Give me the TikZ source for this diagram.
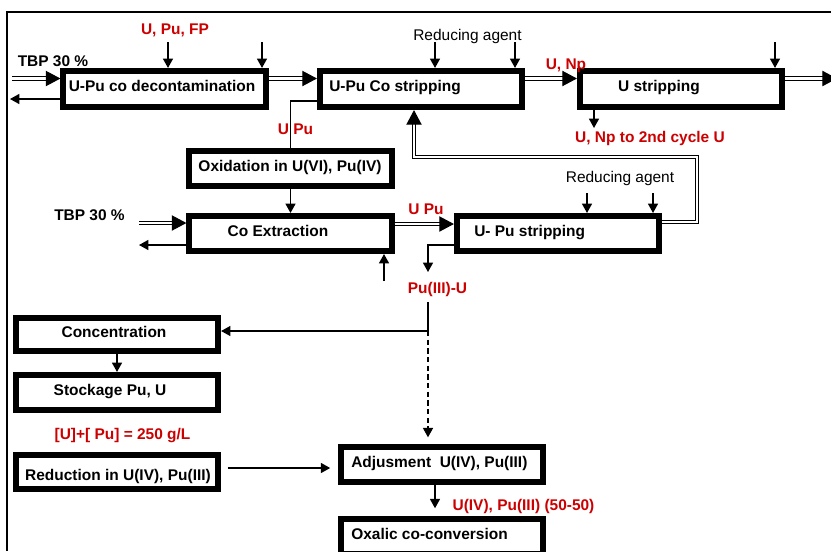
\documentclass[tikz,border=0pt]{standalone}
\usepackage{fontspec}
\setmainfont{Liberation Sans}
\usetikzlibrary{arrows.meta,calc}
\definecolor{labelred}{RGB}{204,0,0}

\begin{document}
\begin{tikzpicture}[x=0.75pt,y=-0.75pt,
  font=\fontsize{11.6}{13}\selectfont\bfseries,
  pbox/.style={draw, line width=4.5pt, minimum width=151.6pt,
    minimum height=26.3pt, inner sep=0pt},
  txt/.style={inner sep=0pt, anchor=base},
  redtxt/.style={txt, text=labelred},
  plaintxt/.style={txt, font=\fontsize{11.6}{13}\selectfont\mdseries},
  thin/.style={line width=1pt},
  arr/.style={thin, -{Triangle[length=7pt,width=7.5pt]}},
  dbl/.style={double, line width=0.75pt, double distance=1.6pt, line join=miter},
  dblarr/.style={dbl, -{Triangle[length=11pt,width=11.5pt]}},
  dashedarr/.style={arr, dash pattern=on 4pt off 2.5pt}
]
\useasboundingbox (0,0) rectangle (831,551);

% outer frame (left and top edges)
\draw[thin] (7,551) -- (7,12) -- (831,12);

% process boxes
\node[pbox, minimum height=27.1pt] (dec)  at (164.5,89) {};
\node[pbox, minimum height=27.1pt] (cost) at (421,89) {};
\node[pbox, minimum height=27.1pt] (ust)  at (681,89) {};
\node[pbox] (oxi)   at (290.5,168.5) {};
\node[pbox] (coex)  at (290.5,233.5) {};
\node[pbox] (upst)  at (558,233.5) {};
\node[pbox, minimum height=24.8pt] (conc) at (117,334.5) {};
\node[pbox] (stock) at (117,392.5) {};
\node[pbox, minimum height=25.6pt] (redu) at (117,472) {};
\node[pbox] (adj)   at (442,464.5) {};
\node[pbox] (oxa)   at (442,536.5) {};

% box titles
\node[txt] (decT) at (162,91) {U-Pu co decontamination};
\node[txt, anchor=base west] (costT) at (329,91) {U-Pu Co stripping};
\node[txt] (ustT) at (659,91) {U stripping};
\node[txt] (oxiT) at (290,171) {Oxidation in U(VI), Pu(IV)};
\node[txt] (coexT) at (278,236) {Co Extraction};
\node[txt, anchor=base west] (upstT) at (474,236) {U- Pu stripping};
\node[txt] (concT) at (114,337) {Concentration};
\node[txt] (stockT) at (110,395) {Stockage Pu, U};
\node[txt] (reduT) at (118,480) {Reduction in U(IV), Pu(III)};
\node[txt, anchor=base west] (adjT) at (351,467) {Adjusment\ \ U(IV), Pu(III)};
\node[txt, anchor=base west] (oxaT) at (351,539) {Oxalic co-conversion};

% stream labels
\node[txt] (tbpA) at (53,66) {TBP 30 \%};
\node[txt] (tbpB) at (89.5,220.5) {TBP 30 \%};
\node[redtxt] (feed) at (175,34) {U, Pu, FP};
\node[plaintxt] (redA) at (467.5,40) {Reducing agent};
\node[plaintxt] (redB) at (620,182) {Reducing agent};
\node[redtxt] (unp) at (566,69) {U, Np};
\node[redtxt] (unp2) at (650,142) {U, Np to 2nd cycle U};
\node[redtxt] (upuA) at (295.5,134.5) {U Pu};
\node[redtxt] (upuB) at (426,214) {U Pu};
\node[redtxt] (puu) at (437.5,293) {Pu(III)-U};
\node[redtxt] (conc250) at (122.5,439) {[U]+[ Pu] = 250 g/L};
\node[redtxt] (ratio) at (523.5,510) {U(IV), Pu(III) (50-50)};

% free ends of connectors
\coordinate (inA)  at (12,78.5);
\coordinate (outA) at (10,99);
\coordinate (fA)   at (168,42);
\coordinate (fB)   at (262,42);
\coordinate (rA)   at (435,42);
\coordinate (rB)   at (515,42);
\coordinate (fC)   at (775,42);
\coordinate (row1) at (0,78.5);
\coordinate (exit) at (837,78.5);
\coordinate (xnp)  at (594,0);
\coordinate (npend) at (594,128);
\coordinate (sideA) at (0,101);
\coordinate (inB)  at (139,223);
\coordinate (outB) at (139,245);
\coordinate (aq)   at (384,281);
\coordinate (row2) at (0,224);
\coordinate (rC)   at (587,193);
\coordinate (rD)   at (653,193);
\coordinate (loopA) at (697,222);
\coordinate (loopB) at (697,157);
\coordinate (loopC) at (414,157);
\coordinate (sideB) at (0,245);
\coordinate (puend) at (428,272);
\coordinate (pustart) at (428,302);
\coordinate (junc) at (428,331);
\coordinate (row3) at (0,468);
\coordinate (xadj) at (435,0);

% first cycle, top row
\draw[dblarr] (inA) -- (inA -| dec.west);
\draw[arr] (dec.west |- outA) -- (outA);
\draw[arr] (fA) -- (fA |- dec.north);
\draw[arr] (fB) -- (fB |- dec.north);
\draw[dblarr] (dec.east |- row1) -- (cost.west |- row1);
\draw[arr] (rA) -- (rA |- cost.north);
\draw[arr] (rB) -- (rB |- cost.north);
\draw[dblarr] (cost.east |- row1) -- (ust.west |- row1);
\draw[arr] (fC) -- (fC |- ust.north);
\draw[dblarr] (ust.east |- row1) -- (exit);
\draw[arr] (ust.south -| xnp) -- (npend);

% U Pu towards oxidation
\draw[thin] (cost.west |- sideA) -| (oxi.north);
\draw[arr] (oxi.south) -- (coex.north);

% co-extraction
\draw[dblarr] (inB) -- (inB -| coex.west);
\draw[arr] (coex.west |- outB) -- (outB);
\draw[arr] (aq) -- (aq |- coex.south);
\draw[dblarr] (coex.east |- row2) -- (upst.west |- row2);

% U-Pu stripping
\draw[arr] (rC) -- (rC |- upst.north);
\draw[arr] (rD) -- (rD |- upst.north);
\draw[dblarr] (upst.east |- loopA) -- (loopA) -- (loopB) -- (loopC) -- (loopC |- cost.south);
\draw[arr] (upst.west |- sideB) -| (puend);

% Pu(III)-U distribution
\draw[thin] (pustart) -- (junc);
\draw[arr] (junc) -- (junc -| conc.east);
\draw[dashedarr, shorten >=5pt] (junc) -- (junc |- adj.north);
\draw[arr] (conc.south) -- (stock.north);
\draw[arr, shorten <=5pt, shorten >=5.8pt] (redu.east |- row3) -- (adj.west |- row3);
\draw[arr, shorten >=5.8pt] (adj.south -| xadj) -- (oxa.north -| xadj);

\end{tikzpicture}
\end{document}
